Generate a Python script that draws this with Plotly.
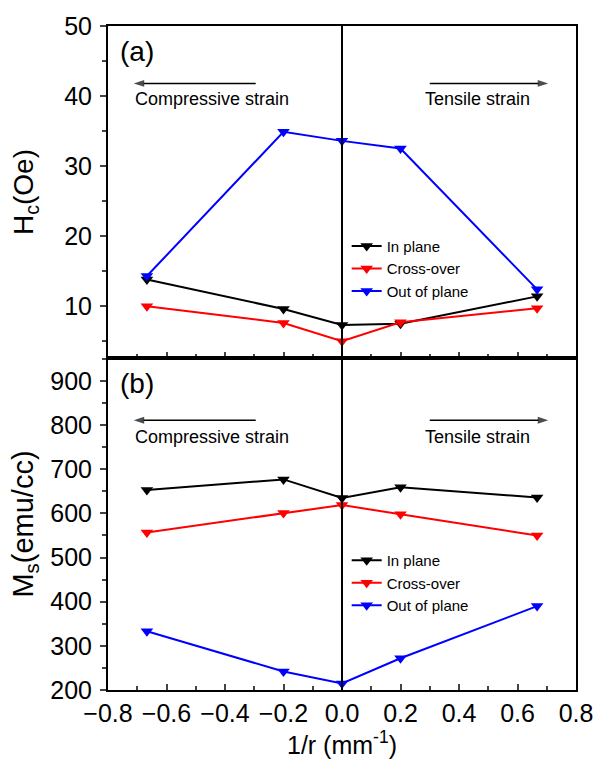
import plotly.graph_objects as go

x_vals = [-0.667, -0.2, 0.0, 0.2, 0.667]

hc_in_plane = [13.8, 9.6, 7.3, 7.5, 11.4]
hc_cross_over = [10.0, 7.6, 5.0, 7.7, 9.7]
hc_out_of_plane = [14.3, 34.9, 33.6, 32.5, 12.4]

ms_in_plane = [653, 677, 635, 659, 636]
ms_cross_over = [557, 601, 619, 598, 550]
ms_out_of_plane = [333, 242, 215, 272, 390]

series_names = ["In plane", "Cross-over", "Out of plane"]
series_colors = ["#000000", "#ff0000", "#0000ff"]

# strain arrow annotations (x extents) and their heights per panel
compress_arrow_x = [-0.295, -0.712]
tensile_arrow_x = [0.30, 0.705]
arrow_y_a, label_y_a = 41.8, 39.6
arrow_y_b, label_y_b = 811, 773

FONT = "Liberation Sans, Arial, sans-serif"

fig = go.Figure()

for name, color, ys in zip(series_names, series_colors,
                           [hc_in_plane, hc_cross_over, hc_out_of_plane]):
    fig.add_trace(go.Scatter(x=x_vals, y=ys, name=name, mode="lines+markers",
                             line=dict(color=color, width=2),
                             marker=dict(symbol="triangle-down", size=11, color=color),
                             xaxis="x", yaxis="y", legend="legend"))

for name, color, ys in zip(series_names, series_colors,
                           [ms_in_plane, ms_cross_over, ms_out_of_plane]):
    fig.add_trace(go.Scatter(x=x_vals, y=ys, name=name, mode="lines+markers",
                             line=dict(color=color, width=2),
                             marker=dict(symbol="triangle-down", size=11, color=color),
                             xaxis="x2", yaxis="y2", legend="legend2"))

# strain arrows drawn as lines with an arrow marker at the head
for xa, ya_ax, ay in [("x", "y", arrow_y_a), ("x2", "y2", arrow_y_b)]:
    for xs in (compress_arrow_x, tensile_arrow_x):
        fig.add_trace(go.Scatter(x=xs, y=[ay, ay], mode="lines+markers",
                                 line=dict(color="black", width=1.4),
                                 marker=dict(symbol="arrow", size=[0, 11], color="black",
                                             line=dict(width=0),
                                             angleref="previous"),
                                 xaxis=xa, yaxis=ya_ax, showlegend=False,
                                 hoverinfo="skip"))

axis_common = dict(showline=True, linecolor="black", linewidth=2, mirror=True,
                   showgrid=False, zeroline=False, automargin=False,
                   tickfont=dict(family=FONT, size=25, color="black"))

fig.update_layout(
    width=596, height=762,
    margin=dict(l=108, r=20, t=26, b=72),
    plot_bgcolor="white", paper_bgcolor="white",
    font=dict(family=FONT, color="black"),
    xaxis=dict(**axis_common, domain=[0, 1], anchor="y", range=[-0.8, 0.8],
               showticklabels=False, ticks="inside", ticklen=6, tickwidth=1.5,
               dtick=0.2, tick0=0,
               minor=dict(ticks="inside", dtick=0.1, ticklen=4, tickwidth=1.5)),
    yaxis=dict(**axis_common, domain=[0.5, 1], anchor="x", range=[2.6, 50],
               ticks="outside", ticklen=6, tickwidth=1.5, dtick=10, tick0=0,
               ticklabelstandoff=3,
               minor=dict(ticks="outside", dtick=5, ticklen=4, tickwidth=1.5),
               title=dict(text="H<sub>c</sub>(Oe)", font=dict(family=FONT, size=28),
                          standoff=22)),
    xaxis2=dict(**axis_common, domain=[0, 1], anchor="y2", range=[-0.8, 0.8],
                ticks="inside", ticklen=6, tickwidth=1.5, dtick=0.2, tick0=0,
                tickformat=".1f",
                minor=dict(ticks="inside", dtick=0.1, ticklen=4, tickwidth=1.5),
                title=dict(text="1/r (mm<sup>-1</sup>)", font=dict(family=FONT, size=25),
                           standoff=10)),
    yaxis2=dict(**axis_common, domain=[0, 0.5], anchor="x2", range=[200, 952],
                ticks="outside", ticklen=6, tickwidth=1.5, dtick=100, tick0=0,
                ticklabelstandoff=3,
                minor=dict(ticks="outside", dtick=50, ticklen=4, tickwidth=1.5),
                title=dict(text="M<sub>s</sub>(emu/cc)", font=dict(family=FONT, size=29),
                           standoff=8)),
    legend=dict(x=0.51, y=0.693, xanchor="left", yanchor="top",
                bgcolor="rgba(0,0,0,0)", font=dict(family=FONT, size=15),
                itemwidth=30, tracegroupgap=0),
    legend2=dict(x=0.51, y=0.22, xanchor="left", yanchor="top",
                 bgcolor="rgba(0,0,0,0)", font=dict(family=FONT, size=15),
                 itemwidth=30, tracegroupgap=0),
    showlegend=True,
)

# vertical line at x = 0 across both panels
fig.add_shape(type="line", xref="x2", yref="paper", x0=0, x1=0, y0=0, y1=1,
              line=dict(color="black", width=2))

# panel labels
fig.add_annotation(text="(a)", xref="paper", yref="paper", x=0.022, y=0.988,
                   xanchor="left", yanchor="top", showarrow=False,
                   font=dict(family=FONT, size=28))
fig.add_annotation(text="(b)", xref="paper", yref="paper", x=0.022, y=0.488,
                   xanchor="left", yanchor="top", showarrow=False,
                   font=dict(family=FONT, size=28))

# strain labels
for xr, yr, yt in [("x", "y", label_y_a), ("x2", "y2", label_y_b)]:
    fig.add_annotation(x=-0.715, y=yt, xref=xr, yref=yr, text="Compressive strain",
                       xanchor="left", showarrow=False, font=dict(family=FONT, size=18))
    fig.add_annotation(x=0.65, y=yt, xref=xr, yref=yr, text="Tensile strain",
                       xanchor="right", showarrow=False, font=dict(family=FONT, size=18))

fig.write_html("out.html")
